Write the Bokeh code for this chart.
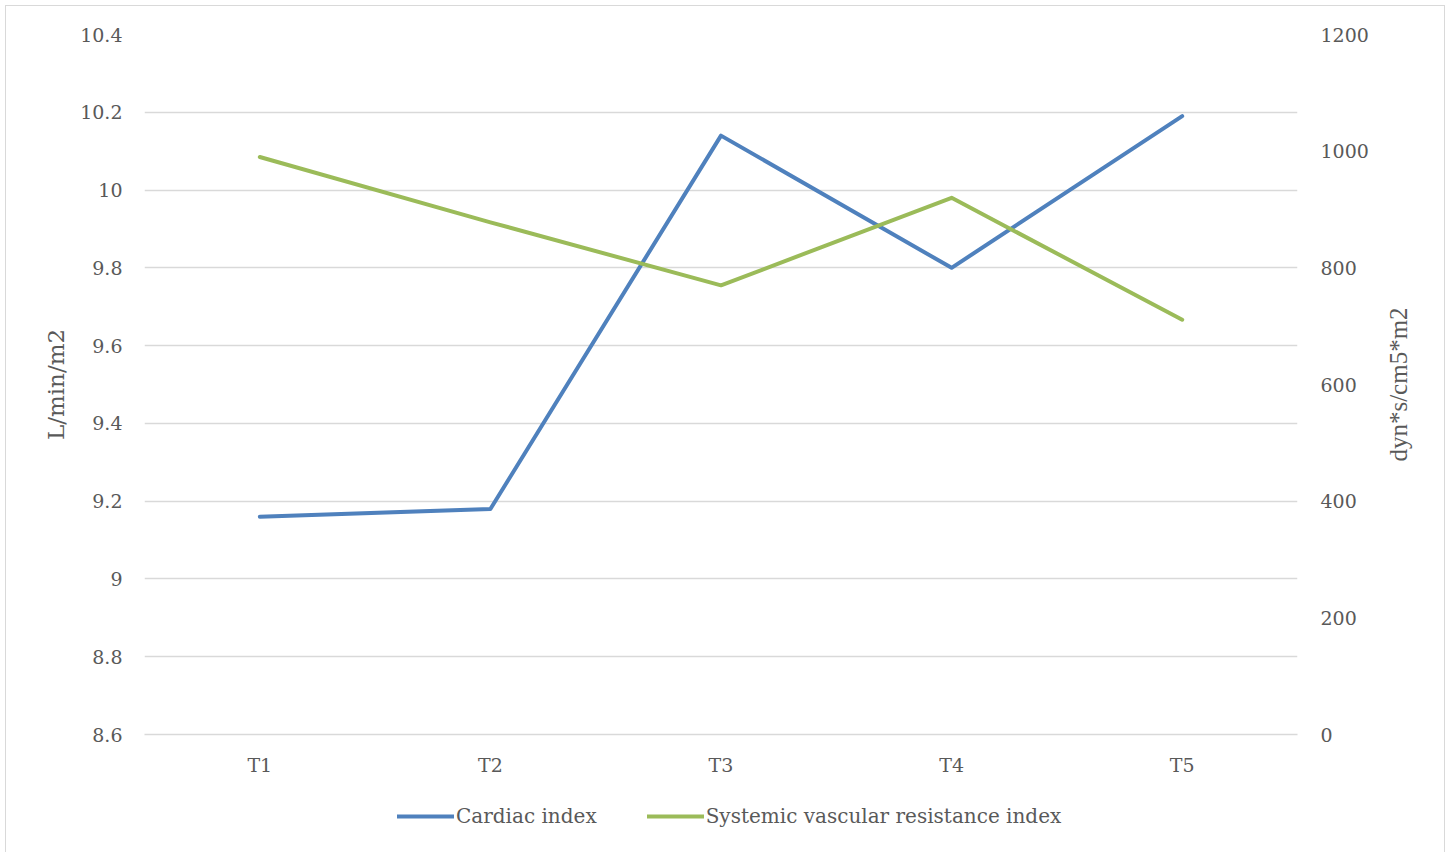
import math
from bokeh.plotting import figure
from bokeh.layouts import column, row
from bokeh.models import LinearAxis, Range1d, FactorRange, Legend, LegendItem, FixedTicker
from bokeh.embed import file_html
from bokeh.resources import INLINE

categories = ["T1", "T2", "T3", "T4", "T5"]
cardiac_index = [9.16, 9.18, 10.14, 9.80, 10.19]
svri = [990, 878, 770, 920, 711]
left_ticks = [8.6, 8.8, 9.0, 9.2, 9.4, 9.6, 9.8, 10.0, 10.2, 10.4]
left_labels = ["8.6", "8.8", "9", "9.2", "9.4", "9.6", "9.8", "10", "10.2", "10.4"]
right_ticks = [0, 200, 400, 600, 800, 1000, 1200]
series_names = ["Cardiac index", "Systemic vascular resistance index"]
series_colors = ["#4f81bd", "#9bbb59"]
left_title = "L/min/m2"
right_title = "dyn*s/cm5*m2"

FONT = "DejaVu Serif"
TXT = "#595959"
GRID = "#d9d9d9"

p = figure(width=1366, height=778, x_range=FactorRange(*categories, range_padding=0),
           y_range=Range1d(8.6, 10.4), output_backend="svg", toolbar_location=None,
           min_border_left=138, min_border_right=75, min_border_top=28, min_border_bottom=50)
p.outline_line_color = None
p.extra_y_ranges = {"svri": Range1d(0, 1200)}

p.xgrid.grid_line_color = None
p.ygrid.grid_line_color = GRID
p.ygrid.grid_line_width = 1.5

ax = p.xaxis[0]
ax.axis_line_color = GRID
ax.axis_line_width = 1.5
ax.major_tick_line_color = None
ax.minor_tick_line_color = None
ax.major_label_text_font = FONT
ax.major_label_text_font_size = "19px"
ax.major_label_text_color = TXT
ax.major_label_standoff = 13

ay = p.yaxis[0]
ay.ticker = FixedTicker(ticks=left_ticks)
ay.major_label_overrides = dict(zip(left_ticks, left_labels))
ay.axis_line_color = None
ay.major_tick_line_color = None
ay.minor_tick_line_color = None
ay.major_label_text_font = FONT
ay.major_label_text_font_size = "19px"
ay.major_label_text_color = TXT
ay.major_label_standoff = 16
ay.axis_label = left_title
ay.axis_label_text_font = FONT
ay.axis_label_text_font_size = "23px"
ay.axis_label_text_font_style = "normal"
ay.axis_label_text_color = TXT
ay.axis_label_standoff = 8

ry = LinearAxis(y_range_name="svri", ticker=FixedTicker(ticks=right_ticks))
ry.axis_line_color = None
ry.major_tick_line_color = None
ry.minor_tick_line_color = None
ry.major_label_text_font = FONT
ry.major_label_text_font_size = "19px"
ry.major_label_text_color = TXT
ry.major_label_standoff = 17
p.add_layout(ry, "right")

p.line(categories, cardiac_index, line_color=series_colors[0], line_width=4, line_cap="round", line_join="round")
p.line(categories, svri, y_range_name="svri", line_color=series_colors[1], line_width=4, line_cap="round", line_join="round")

# right-hand axis title strip (reads bottom to top)
side = figure(width=72, height=778, output_backend="svg", toolbar_location=None,
              x_axis_location=None, y_axis_location=None, x_range=Range1d(0, 72), y_range=Range1d(0, 1),
              min_border_left=0, min_border_right=0, min_border_top=28, min_border_bottom=50)
side.outline_line_color = None
side.xgrid.grid_line_color = None
side.ygrid.grid_line_color = None
side.text(x=[26], y=[0.5], text=[right_title], angle=math.pi / 2, text_align="center",
          text_baseline="middle", text_font=FONT, text_font_size="25px", text_color=TXT)

# legend strip
lg = figure(width=1438, height=72, output_backend="svg", toolbar_location=None,
            x_axis_location=None, y_axis_location=None, x_range=Range1d(0, 1), y_range=Range1d(0, 1),
            min_border_left=0, min_border_right=0, min_border_top=0, min_border_bottom=0)
lg.outline_line_color = None
lg.xgrid.grid_line_color = None
lg.ygrid.grid_line_color = None
items = []
for name, col in zip(series_names, series_colors):
    r = lg.line(x=[5, 6], y=[5, 6], line_color=col, line_width=4, line_cap="round")
    items.append(LegendItem(label=name, renderers=[r]))
legend = Legend(items=items, orientation="horizontal", location=(391, 28))
legend.label_text_font = FONT
legend.label_text_font_size = "20px"
legend.label_text_color = TXT
legend.glyph_width = 57
legend.label_standoff = 2
legend.spacing = 50
legend.padding = 0
legend.margin = 0
legend.border_line_color = None
legend.background_fill_alpha = 0
lg.add_layout(legend, "center")

layout = column(row(p, side, spacing=0), lg, spacing=0)
layout.styles = {"border": "1.5px solid #d9d9d9", "margin-left": "5px", "margin-top": "5px"}

open("out.html", "w").write(file_html(layout, INLINE))
